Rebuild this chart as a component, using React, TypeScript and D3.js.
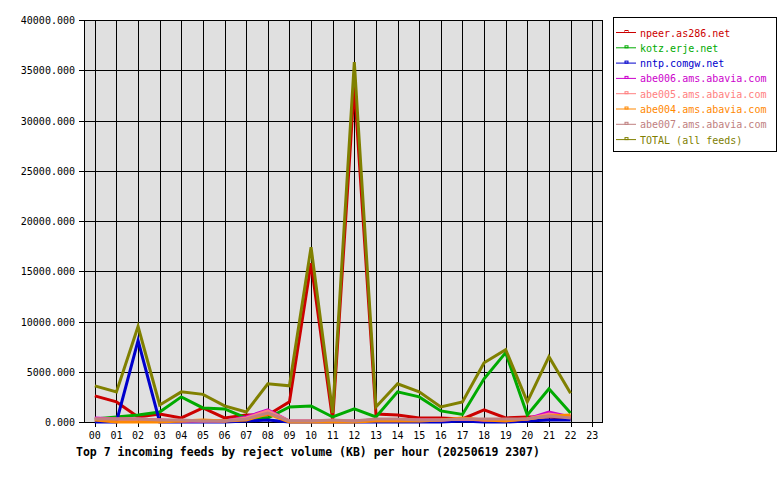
import React from "react";
import * as d3 from "d3";

const hours = ["00","01","02","03","04","05","06","07","08","09","10","11","12","13","14","15","16","17","18","19","20","21","22","23"];
const yTicks = [0, 5000, 10000, 15000, 20000, 25000, 30000, 35000, 40000];

const npeer = [2600, 2000, 500, 800, 400, 1400, 400, 700, 700, 2000, 15800, 200, 33500, 800, 700, 400, 400, 300, 1200, 400, 500, 500, 300];
const kotz = [300, 500, 700, 1000, 2500, 1400, 1300, 400, 400, 1500, 1600, 500, 1300, 500, 3000, 2500, 1100, 750, 4300, 6900, 700, 3300, 900];
const nntp = [0, 0, 8100, 0, 0, 0, 0, 100, 200, 0, 0, 0, 0, 0, 0, 0, 0, 100, 0, 0, 100, 200, 200];
const abe006 = [400, 300, 300, 200, 100, 100, 100, 500, 1200, 100, 100, 100, 100, 200, 200, 200, 200, 300, 200, 200, 300, 1000, 500];
const abe005 = [300, 300, 300, 200, 100, 100, 100, 400, 1100, 100, 100, 100, 100, 200, 200, 200, 200, 300, 200, 200, 300, 800, 500];
const abe004 = [200, 0, 0, 0, 100, 200, 100, 200, 800, 0, 0, 0, 0, 100, 100, 100, 200, 400, 200, 100, 300, 600, 700];
const abe007 = [300, 300, 300, 200, 200, 100, 100, 300, 900, 100, 100, 200, 100, 300, 300, 200, 200, 300, 300, 300, 300, 600, 400];
const total = [3600, 3000, 9500, 1700, 3000, 2750, 1600, 1000, 3800, 3600, 17400, 900, 35800, 1500, 3800, 3000, 1500, 2000, 5900, 7200, 2000, 6500, 2850];

const seriesNames = ["npeer.as286.net", "kotz.erje.net", "nntp.comgw.net", "abe006.ams.abavia.com", "abe005.ams.abavia.com", "abe004.ams.abavia.com", "abe007.ams.abavia.com", "TOTAL (all feeds)"];
const seriesData = [npeer, kotz, nntp, abe006, abe005, abe004, abe007, total];
const seriesColors = ["#cc0000", "#00aa00", "#0000cc", "#cc00cc", "#ff8080", "#ff8800", "#c08080", "#808000"];

const title = "Top 7 incoming feeds by reject volume (KB) per hour (20250619 2307)";

export default function App() {
  const left = 84, right = 603, top = 20, bottom = 422;
  const x = d3.scalePoint<string>().domain(hours).range([left, right]).padding(0.5);
  const y = d3.scaleLinear().domain([0, 40000]).range([bottom, top]);
  const line = d3.line<number>().x((_, i) => x(hours[i]) as number).y((d) => y(d));
  const font = "'DejaVu Sans Mono', 'Liberation Mono', monospace";

  return (
    <svg width={780} height={480} style={{ position: "absolute", left: 0, top: 0, background: "#fff" }} fontFamily={font}>
      <rect x={0} y={0} width={780} height={480} fill="#fff" />
      <rect x={left} y={top} width={right - left} height={bottom - top} fill="#e0e0e0" />
      {hours.map((h) => (
        <g key={h}>
          <line x1={Math.round(x(h)!) + 0.5} x2={Math.round(x(h)!) + 0.5} y1={top} y2={bottom + 5} stroke="#000" strokeWidth={1} shapeRendering="crispEdges" />
          <text x={x(h)} y={439} textAnchor="middle" fontSize={10} fill="#000">{h}</text>
        </g>
      ))}
      {yTicks.map((t) => (
        <g key={t}>
          <line x1={left - 5} x2={right} y1={Math.round(y(t)) + 0.5} y2={Math.round(y(t)) + 0.5} stroke="#000" strokeWidth={1} shapeRendering="crispEdges" />
          <text x={75} y={y(t) + 4} textAnchor="end" fontSize={10} fill="#000">{t.toFixed(3)}</text>
        </g>
      ))}
      <rect x={left + 0.5} y={top + 0.5} width={right - left - 1} height={bottom - top} fill="none" stroke="#000" strokeWidth={1} shapeRendering="crispEdges" />
      {seriesData.map((s, i) => (
        <path key={seriesNames[i]} d={line(s) || ""} fill="none" stroke={seriesColors[i]} strokeWidth={3} strokeLinejoin="miter" />
      ))}
      <text x={76} y={456} fontSize={11.5} fontWeight="bold" fill="#000">{title}</text>
      <rect x={613.5} y={17.5} width={163} height={134} fill="#fff" stroke="#000" strokeWidth={1} shapeRendering="crispEdges" />
      {seriesNames.map((n, i) => {
        const ly = 32.5 + i * 15.3;
        return (
          <g key={n}>
            <line x1={616} x2={636} y1={ly} y2={ly} stroke={seriesColors[i]} strokeWidth={1} />
            <rect x={625} y={ly - 2} width={3} height={2} fill="none" stroke={seriesColors[i]} strokeWidth={1} />
            <text x={640} y={ly + 4} fontSize={10} fill={seriesColors[i]}>{n}</text>
          </g>
        );
      })}
    </svg>
  );
}
